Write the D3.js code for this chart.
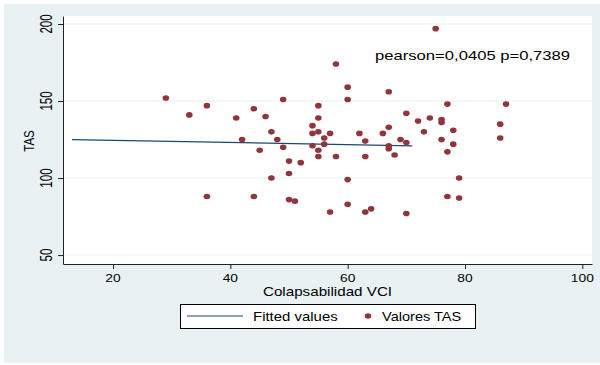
<!DOCTYPE html>
<meta charset="utf-8">
<style>
  body { margin: 0; background: #fff; }
  text { font-family: "Liberation Sans", Arial, sans-serif; fill: #000; }
  .axis path, .axis line { stroke: #222; stroke-width: 1px; }
  .grid { stroke: #e6eff1; stroke-width: 1px; }
</style>
<body>
<script src="https://d3js.org/d3.v7.min.js"></script>
<script>
// Colapsabilidad VCI (x) and TAS (y)
var colapsabilidad = [29, 33, 36, 41, 44, 46, 49, 47, 42, 48, 49, 45, 50, 52, 50, 47, 36, 44, 50, 51,
  60, 67, 55, 60, 70, 72, 55, 54, 54, 55, 57, 56, 56, 54, 55, 55, 58, 62, 66, 67, 63, 67, 67, 69, 70, 68, 63,
  60, 60, 57, 63, 64, 70,
  74, 76, 76, 77, 73, 78, 76, 78, 77, 79, 77, 79, 87, 86, 86,
  75, 58];
var tas = [152, 141, 147, 139, 145, 140, 151, 130, 125, 125, 120, 118, 111, 110, 103, 100, 88, 88, 86, 85,
  159, 156, 147, 151, 142, 137, 139, 134, 129, 130, 129, 126, 122, 121, 118, 114, 114, 129, 129, 133, 124, 121, 119, 125, 123, 115, 114,
  99, 83, 78, 78, 80, 77,
  139, 138, 136, 148, 130, 131, 125, 122, 117, 100, 88, 87, 148, 135, 126,
  197, 174];
var fitX = [13, 71];
var fitY = [125.0, 120.9];
var xTicks = [20, 40, 60, 80, 100];
var yTicks = [50, 100, 150, 200];
var xTitle = "Colapsabilidad VCI";
var yTitle = "TAS";
var pearsonLabel = "pearson=0,0405 p=0,7389";
var legendLabels = ["Fitted values", "Valores TAS"];

var navy = "#1a476f", maroon = "#90353b";
var W = 600, H = 365;

var svg = d3.select("body").append("svg").attr("width", W).attr("height", H);
svg.append("rect").attr("x", 4).attr("y", 4).attr("width", W - 4).attr("height", H - 6)
  .attr("fill", "#e9f1f3");

var plot = {left: 63, right: 592, top: 16, bottom: 264};
svg.append("rect").attr("x", plot.left).attr("y", plot.top)
  .attr("width", plot.right - plot.left).attr("height", plot.bottom - plot.top)
  .attr("fill", "#fff");

var x = d3.scaleLinear().domain([11.47, 101.65]).range([plot.left, plot.right]);
var y = d3.scaleLinear().domain([44.2, 205.2]).range([plot.bottom, plot.top]);

// the picture is drawn a little wider than tall, so text gets stretched sideways
function label(g, px, py, str, size, stretch, anchor, rot) {
  return g.append("text")
    .attr("transform", "translate(" + px + "," + py + ") scale(" + stretch + ",1)" + (rot ? " rotate(-90)" : ""))
    .attr("font-size", size)
    .attr("text-anchor", anchor)
    .text(str);
}

// grid
svg.append("g").selectAll("line").data(yTicks).join("line")
  .attr("class", "grid")
  .attr("x1", plot.left).attr("x2", plot.right)
  .attr("y1", d => y(d)).attr("y2", d => y(d));

// axes
svg.append("g").attr("class", "axis")
  .attr("transform", "translate(" + plot.left + ",0)")
  .call(d3.axisLeft(y).tickValues(yTicks).tickSize(5).tickSizeOuter(0).tickFormat(""));
svg.append("g").attr("class", "axis")
  .attr("transform", "translate(0," + plot.bottom + ")")
  .call(d3.axisBottom(x).tickValues(xTicks).tickSize(5).tickSizeOuter(0).tickFormat(""));

yTicks.forEach(function(v) { label(svg, 52, y(v), v, 11.5, 1.4, "middle", true); });
xTicks.forEach(function(v) { label(svg, x(v), 281.5, v, 11.5, 1.2, "middle", false); });

label(svg, 33.5, (plot.top + plot.bottom) / 2 + 1, yTitle, 11.5, 1.35, "middle", true);
label(svg, (plot.left + plot.right) / 2, 296, xTitle, 13, 1.17, "middle", false);

// fitted line
var fit = fitX.map((d, i) => [d, fitY[i]]);
svg.append("path").datum(fit)
  .attr("fill", "none").attr("stroke", navy).attr("stroke-width", 1.2)
  .attr("d", d3.line().x(d => x(d[0])).y(d => y(d[1])));

// points
svg.append("g").selectAll("ellipse").data(colapsabilidad).join("ellipse")
  .attr("cx", d => x(d))
  .attr("cy", (d, i) => y(tas[i]))
  .attr("rx", 3.3).attr("ry", 2.8)
  .attr("fill", maroon);

label(svg, 375, 60, pearsonLabel, 13, 1.28, "start", false);

// legend
var lg = svg.append("g");
lg.append("rect").attr("x", 180.5).attr("y", 304.5).attr("width", 295).attr("height", 24)
  .attr("fill", "#fff").attr("stroke", "#000").attr("stroke-width", 1);
lg.append("line").attr("x1", 187).attr("x2", 243).attr("y1", 316).attr("y2", 316)
  .attr("stroke", navy).attr("stroke-width", 1.2);
label(lg, 253, 320.5, legendLabels[0], 13, 1.15, "start", false);
lg.append("ellipse").attr("cx", 368).attr("cy", 316).attr("rx", 3.3).attr("ry", 2.8).attr("fill", maroon);
label(lg, 382, 320.5, legendLabels[1], 13, 1.12, "start", false);
</script>
</body>
